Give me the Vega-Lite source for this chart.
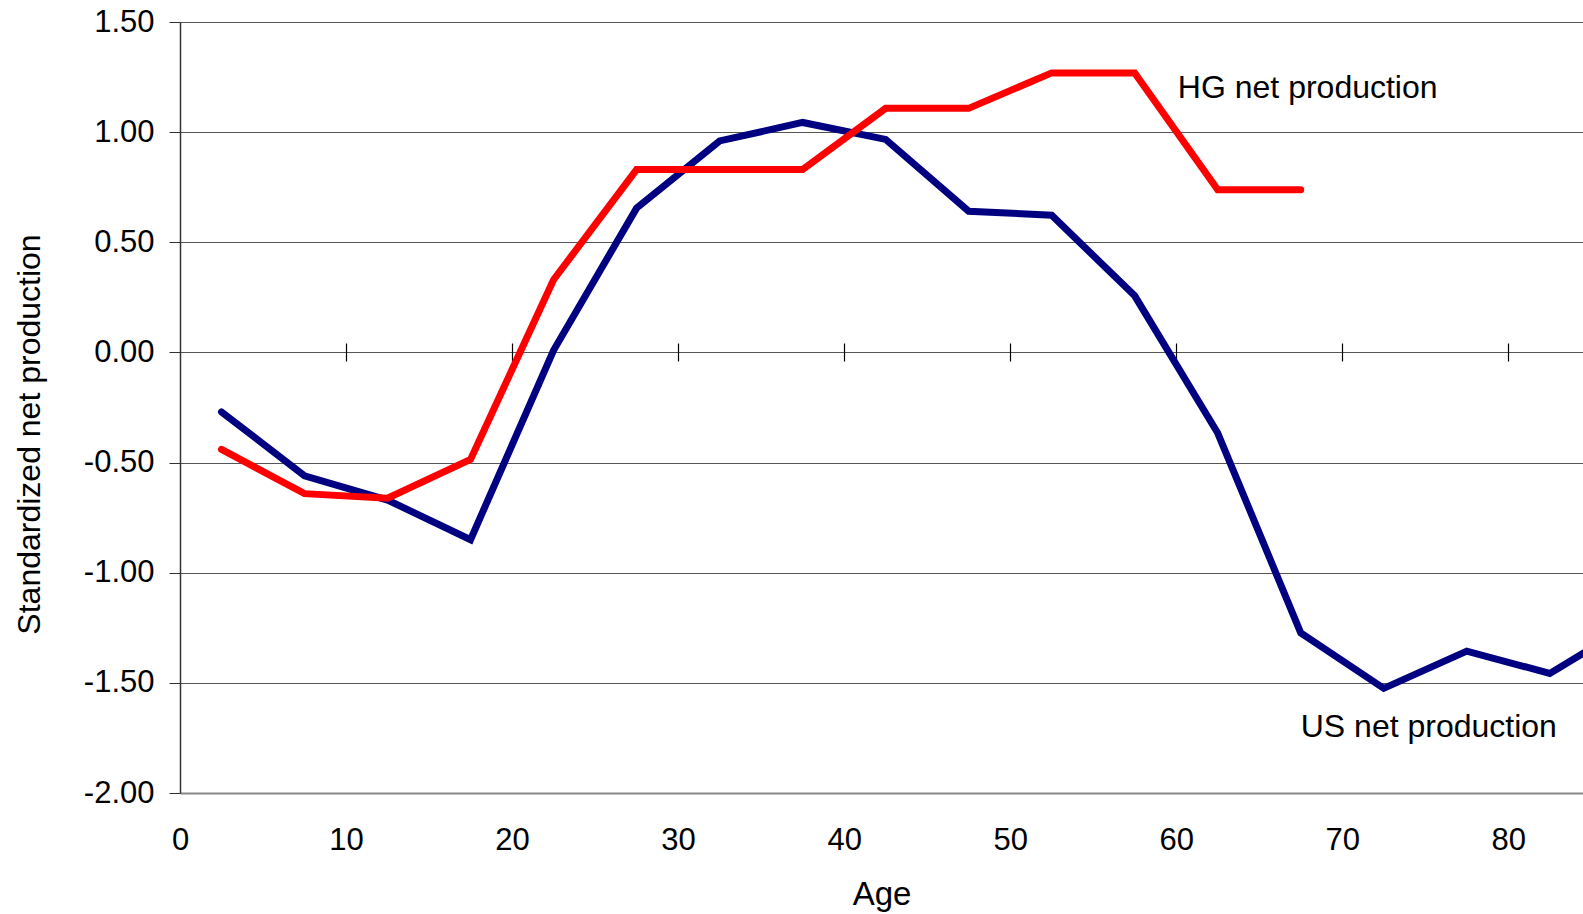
{
  "$schema": "https://vega.github.io/schema/vega-lite/v6.json",
  "width": 1403,
  "height": 771,
  "autosize": {"type": "none"},
  "padding": {"left": 180, "top": 22, "right": 0, "bottom": 121},
  "background": "white",
  "config": {
    "view": {"stroke": null},
    "font": "Liberation Sans",
    "axis": {"labelFont": "Liberation Sans", "titleFont": "Liberation Sans", "labelColor": "black", "titleColor": "black", "titleFontWeight": "normal"}
  },
  "layer": [
    {
      "data": {
        "values": [
          {"age": 2.5, "series": "US", "value": -0.27},
          {"age": 7.5, "series": "US", "value": -0.56},
          {"age": 12.5, "series": "US", "value": -0.67},
          {"age": 17.5, "series": "US", "value": -0.85},
          {"age": 22.5, "series": "US", "value": 0.01},
          {"age": 27.5, "series": "US", "value": 0.655},
          {"age": 32.5, "series": "US", "value": 0.96},
          {"age": 37.5, "series": "US", "value": 1.044},
          {"age": 42.5, "series": "US", "value": 0.967},
          {"age": 47.5, "series": "US", "value": 0.641},
          {"age": 52.5, "series": "US", "value": 0.623},
          {"age": 57.5, "series": "US", "value": 0.257},
          {"age": 62.5, "series": "US", "value": -0.366},
          {"age": 67.5, "series": "US", "value": -1.273},
          {"age": 72.5, "series": "US", "value": -1.525},
          {"age": 77.5, "series": "US", "value": -1.356},
          {"age": 82.5, "series": "US", "value": -1.457},
          {"age": 87.5, "series": "US", "value": -1.23},
          {"age": 2.5, "series": "HG", "value": -0.44},
          {"age": 7.5, "series": "HG", "value": -0.641},
          {"age": 12.5, "series": "HG", "value": -0.662},
          {"age": 17.5, "series": "HG", "value": -0.486},
          {"age": 22.5, "series": "HG", "value": 0.33},
          {"age": 27.5, "series": "HG", "value": 0.83},
          {"age": 32.5, "series": "HG", "value": 0.83},
          {"age": 37.5, "series": "HG", "value": 0.83},
          {"age": 42.5, "series": "HG", "value": 1.108},
          {"age": 47.5, "series": "HG", "value": 1.108},
          {"age": 52.5, "series": "HG", "value": 1.269},
          {"age": 57.5, "series": "HG", "value": 1.269},
          {"age": 62.5, "series": "HG", "value": 0.738},
          {"age": 67.5, "series": "HG", "value": 0.738}
        ]
      },
      "mark": {"type": "line", "strokeWidth": 7, "strokeCap": "round", "strokeJoin": "miter", "clip": true},
      "encoding": {
        "x": {
          "field": "age", "type": "quantitative",
          "scale": {"domain": [0, 84.5], "nice": false, "zero": false},
          "axis": {
            "orient": "bottom", "values": [0, 10, 20, 30, 40, 50, 60, 70, 80],
            "ticks": false, "tickSize": 0, "labelPadding": 32, "labelFontSize": 31,
            "labelFlush": false, "labelOverlap": false,
            "domainColor": "#888888", "domainWidth": 2, "grid": false,
            "title": "Age", "titleFontSize": 33, "titlePadding": 23
          }
        },
        "y": {
          "field": "value", "type": "quantitative",
          "scale": {"domain": [-2, 1.5], "nice": false, "zero": false},
          "axis": {
            "values": [-2, -1.5, -1, -0.5, 0, 0.5, 1, 1.5],
            "labelExpr": "(datum.value < 0 ? '-' : '') + format(abs(datum.value), '.2f')",
            "labelFontSize": 31, "labelFlush": false, "labelOverlap": false,
            "tickSize": 11, "tickColor": "#333333", "labelPadding": 15,
            "domainColor": "#333333", "domainWidth": 1.5,
            "grid": true, "gridColor": "#555555", "gridWidth": 1,
            "title": "Standardized net production", "titleFontSize": 32, "titlePadding": 37, "titleY": 412
          }
        },
        "color": {
          "field": "series", "type": "nominal",
          "scale": {"domain": ["US", "HG"], "range": ["#000080", "#ff0000"]},
          "legend": null
        }
      }
    },
    {
      "data": {"values": [{"label": "HG net production"}]},
      "mark": {"type": "text", "align": "left", "baseline": "middle", "fontSize": 32, "font": "Liberation Sans", "color": "black"},
      "encoding": {
        "x": {
          "datum": 60.1, "type": "quantitative",
          "axis": {"orient": "top", "offset": -330, "values": [10, 20, 30, 40, 50, 60, 70, 80], "labels": false, "domain": false, "grid": false, "ticks": true, "tickSize": 9, "tickColor": "black", "tickWidth": 1.2, "title": null}
        },
        "y": {"datum": 1.2, "type": "quantitative", "axis": null},
        "text": {"field": "label"}
      }
    },
    {
      "data": {"values": [{"label": "US net production"}]},
      "mark": {"type": "text", "align": "left", "baseline": "middle", "fontSize": 32, "font": "Liberation Sans", "color": "black"},
      "encoding": {
        "x": {
          "datum": 67.5, "type": "quantitative",
          "axis": {"orient": "bottom", "offset": -441, "values": [10, 20, 30, 40, 50, 60, 70, 80], "labels": false, "domain": false, "grid": false, "ticks": true, "tickSize": 9, "tickColor": "black", "tickWidth": 1.2, "title": null}
        },
        "y": {"datum": -1.7, "type": "quantitative", "axis": null},
        "text": {"field": "label"}
      }
    }
  ],
  "resolve": {"scale": {"x": "shared", "y": "shared"}, "axis": {"x": "independent", "y": "independent"}}
}
